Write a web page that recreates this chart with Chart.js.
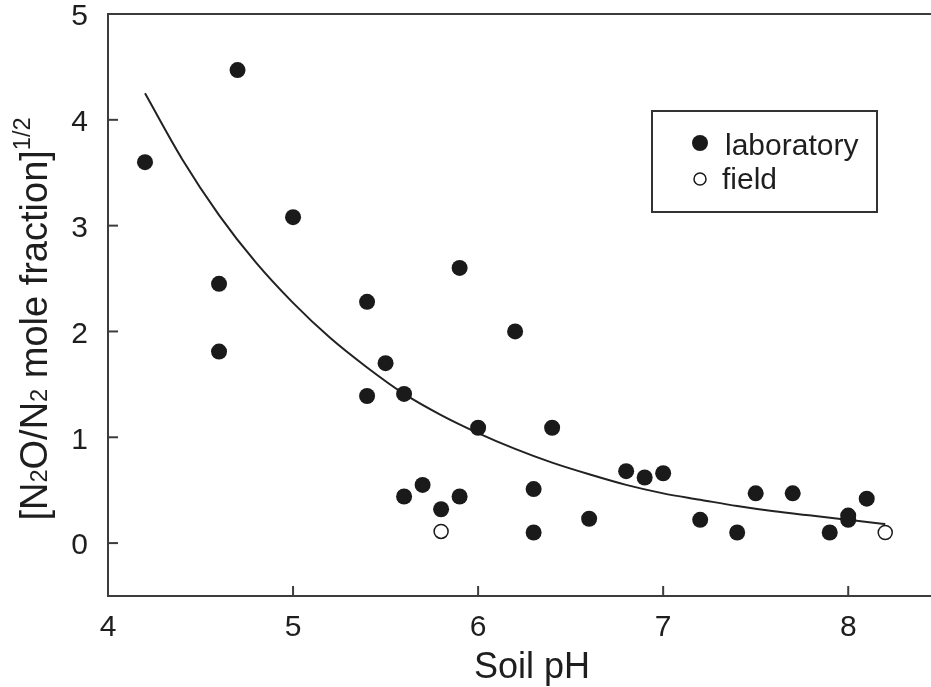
<!DOCTYPE html>
<html>
<head>
<meta charset="utf-8">
<script src="https://cdn.jsdelivr.net/npm/chart.js@4"></script>
<style>
  html, body { margin: 0; padding: 0; background: #ffffff; overflow: hidden; width: 931px; height: 687px; }
  canvas { display: block; }
</style>
</head>
<body>
<canvas id="c" width="940" height="687"></canvas>
<script>
// ---- data ----
const labPH  = [4.2, 4.7, 4.6, 4.6, 5.0, 5.4, 5.4, 5.5, 5.6, 5.6, 5.7, 5.8, 5.9, 5.9, 6.0, 6.2, 6.3, 6.3, 6.4, 6.6, 6.8, 6.9, 7.0, 7.2, 7.4, 7.5, 7.7, 7.9, 8.0, 8.0, 8.1];
const labVal = [3.60, 4.47, 2.45, 1.81, 3.08, 2.28, 1.39, 1.70, 1.41, 0.44, 0.55, 0.32, 0.44, 2.60, 1.09, 2.00, 0.51, 0.10, 1.09, 0.23, 0.68, 0.62, 0.66, 0.22, 0.10, 0.47, 0.47, 0.10, 0.22, 0.26, 0.42];
const fieldPH  = [5.8, 8.2];
const fieldVal = [0.11, 0.10];
const curvePH  = [4.2, 4.4, 4.6, 4.8, 5.0, 5.2, 5.4, 5.6, 5.8, 6.0, 6.2, 6.4, 6.6, 6.8, 7.0, 7.2, 7.4, 7.6, 7.8, 8.0, 8.2];
const curveVal = [4.25, 3.63, 3.10, 2.65, 2.27, 1.94, 1.66, 1.41, 1.21, 1.04, 0.89, 0.76, 0.65, 0.55, 0.47, 0.41, 0.35, 0.30, 0.26, 0.22, 0.18];
const xTicks = [4, 5, 6, 7, 8];
const yTicks = [0, 1, 2, 3, 4, 5];
const labels = { lab: 'laboratory', field: 'field', x: 'Soil pH' };

const toXY = (xs, ys) => xs.map((x, i) => ({ x: x, y: ys[i] }));
const FONT = '"Liberation Sans", Arial, Helvetica, sans-serif';
const TXT = '#1e1e1e';
const AX = '#3c3c3c';

const decor = {
  id: 'decor',
  afterDraw(chart) {
    const ctx = chart.ctx, ca = chart.chartArea;
    const xs = chart.scales.x, ys = chart.scales.y;
    ctx.save();
    // top frame line
    ctx.strokeStyle = AX; ctx.lineWidth = 2;
    ctx.beginPath(); ctx.moveTo(ca.left - 1, ca.top); ctx.lineTo(ca.right, ca.top); ctx.stroke();
    // inward ticks
    xTicks.forEach(v => {
      if (v === xs.min) return;
      const px = xs.getPixelForValue(v);
      ctx.beginPath(); ctx.moveTo(px, ca.bottom); ctx.lineTo(px, ca.bottom - 10); ctx.stroke();
    });
    yTicks.forEach(v => {
      const py = ys.getPixelForValue(v);
      ctx.beginPath(); ctx.moveTo(ca.left, py); ctx.lineTo(ca.left + 10, py); ctx.stroke();
    });
    // x title
    ctx.fillStyle = TXT;
    ctx.font = '36px ' + FONT;
    ctx.textAlign = 'center'; ctx.textBaseline = 'alphabetic';
    ctx.fillText(labels.x, 532, 678);
    // y title with sub/superscripts
    const segs = [
      { t: '[N', s: 1, dy: 0 }, { t: '2', s: 0.62, dy: 0 }, { t: 'O/N', s: 1, dy: 0 },
      { t: '2', s: 0.62, dy: 0 }, { t: ' mole fraction]', s: 1, dy: 0 }, { t: '1/2', s: 0.62, dy: -17 }
    ];
    const base = 38;
    let total = 0;
    segs.forEach(sg => { ctx.font = (base * sg.s) + 'px ' + FONT; sg.w = ctx.measureText(sg.t).width; total += sg.w; });
    ctx.translate(47, 319);
    ctx.rotate(-Math.PI / 2);
    ctx.textAlign = 'left';
    let cx = -total / 2;
    segs.forEach(sg => {
      ctx.font = (base * sg.s) + 'px ' + FONT;
      ctx.fillText(sg.t, cx, sg.dy);
      cx += sg.w;
    });
    ctx.restore();

    // legend box
    ctx.save();
    ctx.strokeStyle = '#333'; ctx.lineWidth = 2;
    ctx.strokeRect(652, 111, 225, 101);
    ctx.fillStyle = '#1a1a1a';
    ctx.beginPath(); ctx.arc(700, 143, 8, 0, Math.PI * 2); ctx.fill();
    ctx.fillStyle = '#fff'; ctx.strokeStyle = '#1a1a1a'; ctx.lineWidth = 1.5;
    ctx.beginPath(); ctx.arc(700, 179, 6, 0, Math.PI * 2); ctx.fill(); ctx.stroke();
    ctx.fillStyle = TXT;
    ctx.font = '30px ' + FONT; ctx.textAlign = 'left'; ctx.textBaseline = 'alphabetic';
    ctx.fillText(labels.lab, 725, 155);
    ctx.fillText(labels.field, 722, 189);
    ctx.restore();
  }
};

new Chart(document.getElementById('c'), {
  type: 'scatter',
  data: {
    datasets: [
      {
        label: 'fit',
        type: 'line',
        data: toXY(curvePH, curveVal),
        borderColor: '#222', borderWidth: 2,
        pointRadius: 0, fill: false,
        cubicInterpolationMode: 'monotone',
        order: 3
      },
      {
        label: labels.lab,
        data: toXY(labPH, labVal),
        backgroundColor: '#1a1a1a', borderColor: '#1a1a1a',
        pointRadius: 8, borderWidth: 0,
        order: 1
      },
      {
        label: labels.field,
        data: toXY(fieldPH, fieldVal),
        backgroundColor: '#ffffff', borderColor: '#1a1a1a',
        pointRadius: 7, borderWidth: 1.5,
        order: 0
      }
    ]
  },
  options: {
    responsive: false,
    animation: false,
    layout: { padding: { top: 14, right: 0, left: 0, bottom: 0 } },
    plugins: { legend: { display: false }, tooltip: { enabled: false } },
    scales: {
      x: {
        type: 'linear', position: 'bottom', min: 4, max: 8.45,
        afterBuildTicks: s => { s.ticks = xTicks.map(v => ({ value: v })); },
        afterFit: s => { s.height = 91; s.paddingLeft = 0; s.paddingRight = 0; },
        grid: { display: false, drawTicks: false },
        border: { display: true, color: AX, width: 2 },
        ticks: { color: TXT, font: { family: FONT, size: 30 }, padding: 14, maxRotation: 0 }
      },
      y: {
        type: 'linear', min: -0.5, max: 5,
        afterBuildTicks: s => { s.ticks = yTicks.map(v => ({ value: v })); },
        afterFit: s => { s.width = 108; s.paddingTop = 0; s.paddingBottom = 0; },
        grid: { display: false, drawTicks: false },
        border: { display: true, color: AX, width: 2 },
        ticks: { color: TXT, font: { family: FONT, size: 30 }, padding: 20, labelOffset: 3 }
      }
    }
  },
  plugins: [decor]
});
</script>
</body>
</html>
